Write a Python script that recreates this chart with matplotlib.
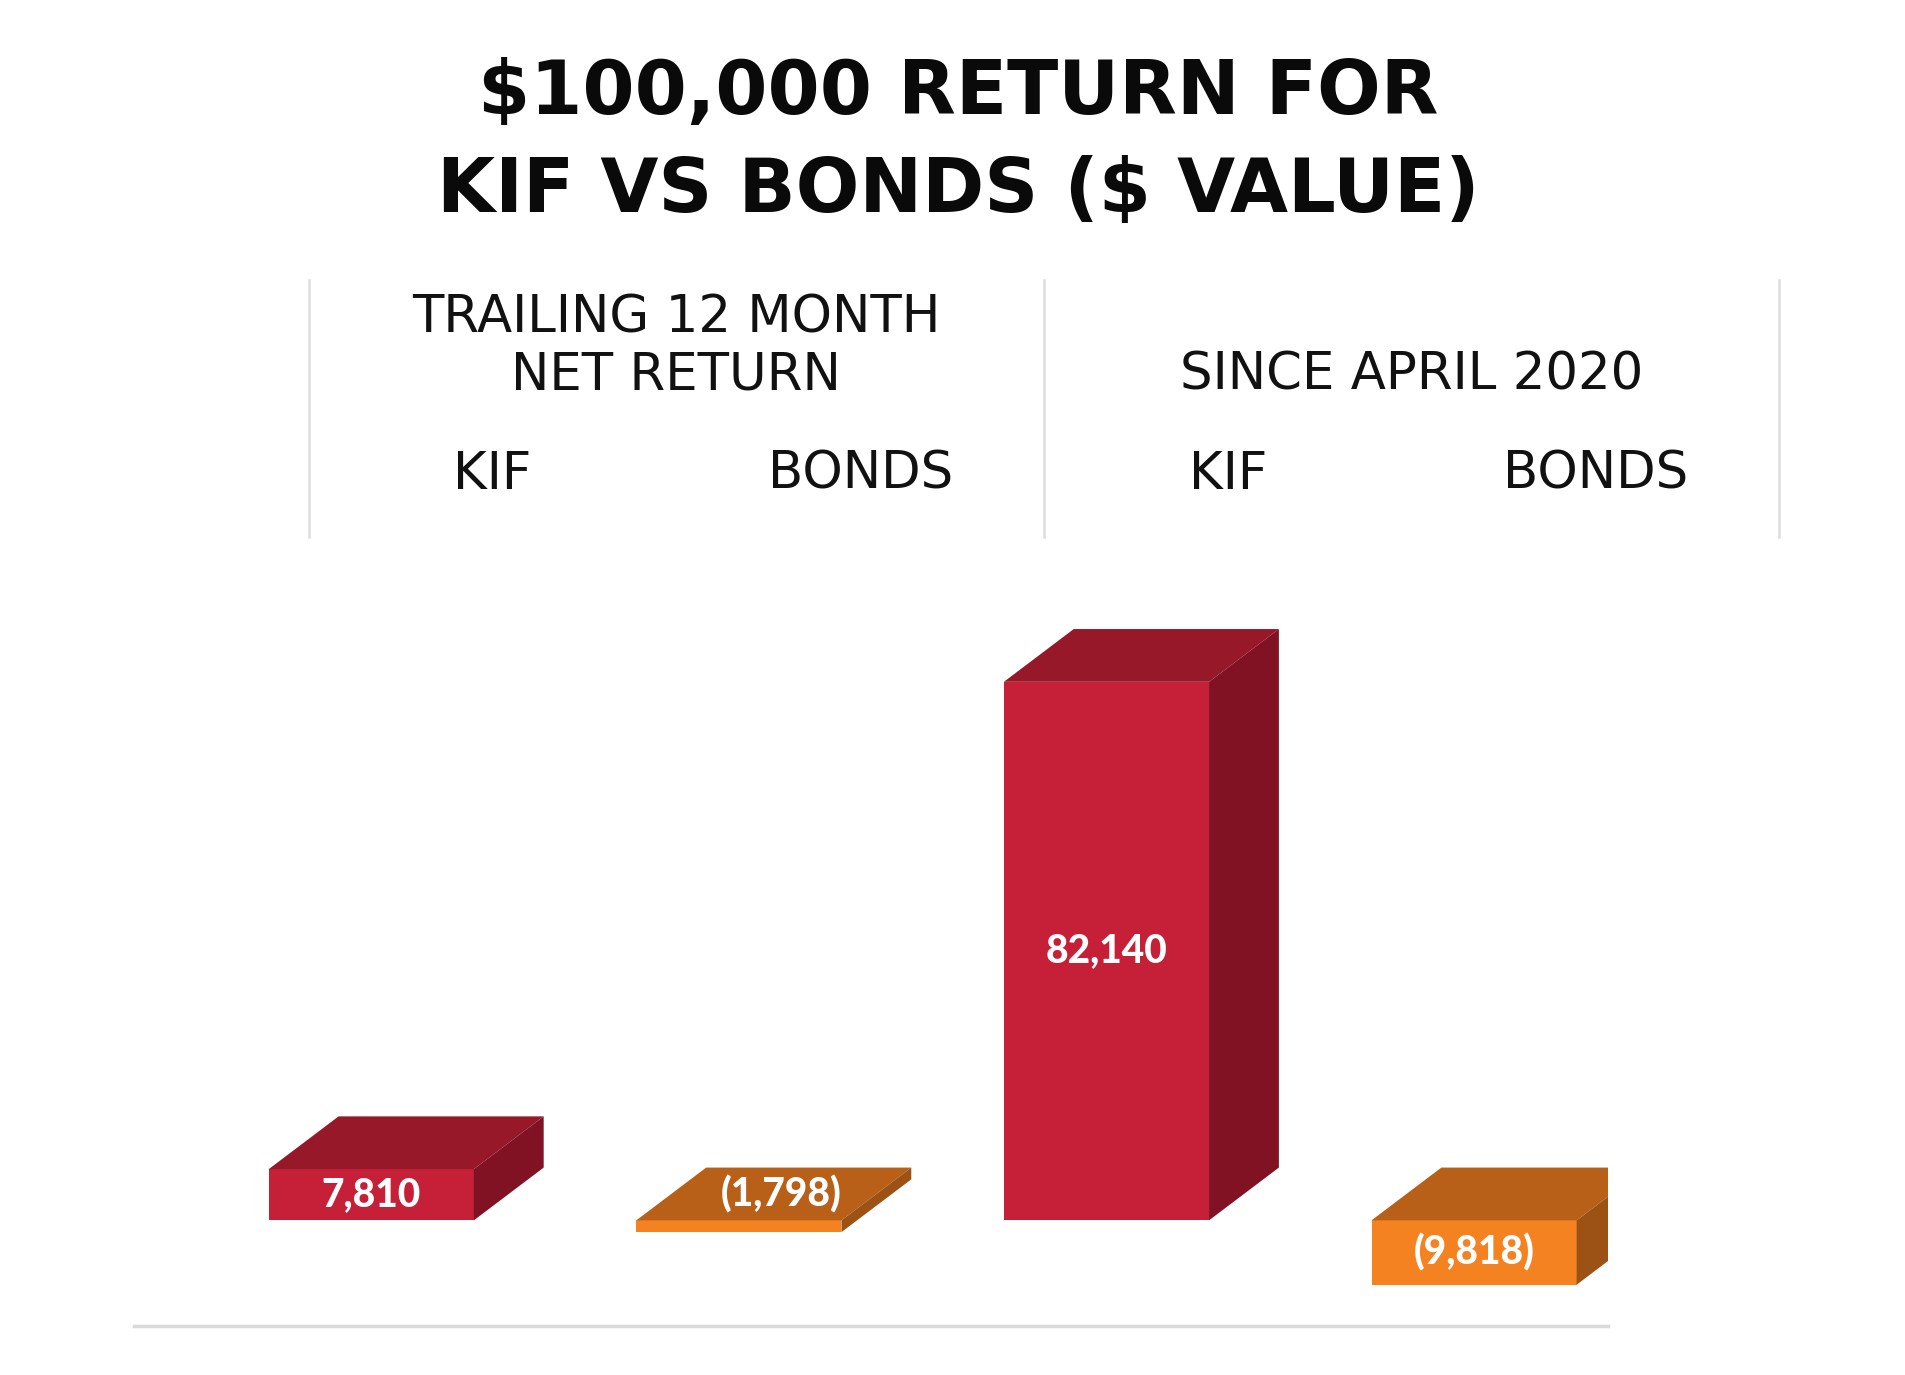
import matplotlib.pyplot as plt
import matplotlib.transforms as mtransforms
from matplotlib.patches import Polygon, Rectangle

# values
categories = ['KIF', 'BONDS', 'KIF', 'BONDS']
values = [7810, -1798, 82140, -9818]
labels = ['7,810', '(1,798)', '82,140', '(9,818)']
groups = ['TRAILING 12 MONTH\nNET RETURN', 'SINCE APRIL 2020']
title = '$100,000 RETURN FOR\nKIF VS BONDS ($ VALUE)'

front = {'KIF': '#C52038', 'BONDS': '#F58220'}
top = {'KIF': '#971829', 'BONDS': '#B85F18'}
side = {'KIF': '#811224', 'BONDS': '#9C5214'}

bar_w = 0.558
dx, dy = 0.19, 8050
head_off = 0.33

fig = plt.figure(figsize=(19.06, 13.75), dpi=100)
ax = fig.add_axes([0.0702, 0.0357, 0.7732, 0.5083])
ax.set_xlim(-0.646, 3.363)
ax.set_ylim(-16100, 90500)

for i, (cat, v, lab) in enumerate(zip(categories, values, labels)):
    x0, x1 = i - bar_w / 2, i + bar_w / 2
    ylo, yhi = min(0, v), max(0, v)
    ax.add_patch(Rectangle((x0, ylo), bar_w, yhi - ylo, facecolor=front[cat],
                           edgecolor='none', zorder=3))
    ax.add_patch(Polygon([(x0, yhi), (x1, yhi), (x1 + dx, yhi + dy), (x0 + dx, yhi + dy)],
                         closed=True, facecolor=top[cat], edgecolor='none', zorder=3))
    ax.add_patch(Polygon([(x1, ylo), (x1 + dx, ylo + dy), (x1 + dx, yhi + dy), (x1, yhi)],
                         closed=True, facecolor=side[cat], edgecolor='none', zorder=3))
    if abs(v) < 3000:
        # too thin, label sits on the top face
        ty = yhi + dy / 2
        tx = i + dx * 0.6
    else:
        ty = (ylo + yhi) / 2
        tx = i
    ax.text(tx, ty, lab, ha='center', va='center', color='white',
            fontsize=28, fontweight='black', family=['Lato', 'DejaVu Sans'], zorder=4)

for s in ['top', 'left', 'right']:
    ax.spines[s].set_visible(False)
ax.spines['bottom'].set_color('#D9D9D9')
ax.spines['bottom'].set_linewidth(2.5)
ax.set_xticks([])
ax.set_yticks([])
ax.patch.set_alpha(0)

# header grid, shifted relative to the bars
trans = mtransforms.blended_transform_factory(ax.transData, fig.transFigure)
for b in [-0.5, 1.5, 3.5]:
    fig.lines.append(plt.Line2D([b + head_off, b + head_off], [0.6098, 0.7964],
                                transform=trans, color='#DDDDDD', lw=1.8))

for i, cat in enumerate(categories):
    fig.text(i + head_off, 0.6446, cat, transform=trans, ha='center', va='baseline',
             fontsize=37, family='DejaVu Sans', color='#111111')

for g, name in enumerate(groups):
    fig.text(2 * g + 0.5 + head_off, 0.7165, name, transform=trans, ha='center',
             va='baseline', multialignment='center', fontsize=37,
             family='DejaVu Sans', color='#111111', linespacing=1.2)

fig.text(0.5026, 0.8455, title, ha='center', va='baseline', multialignment='center',
         fontsize=54, fontweight='bold', family='DejaVu Sans',
         color='#0A0A0A', linespacing=1.45)

fig.savefig('out.png', dpi=100, facecolor='white')
